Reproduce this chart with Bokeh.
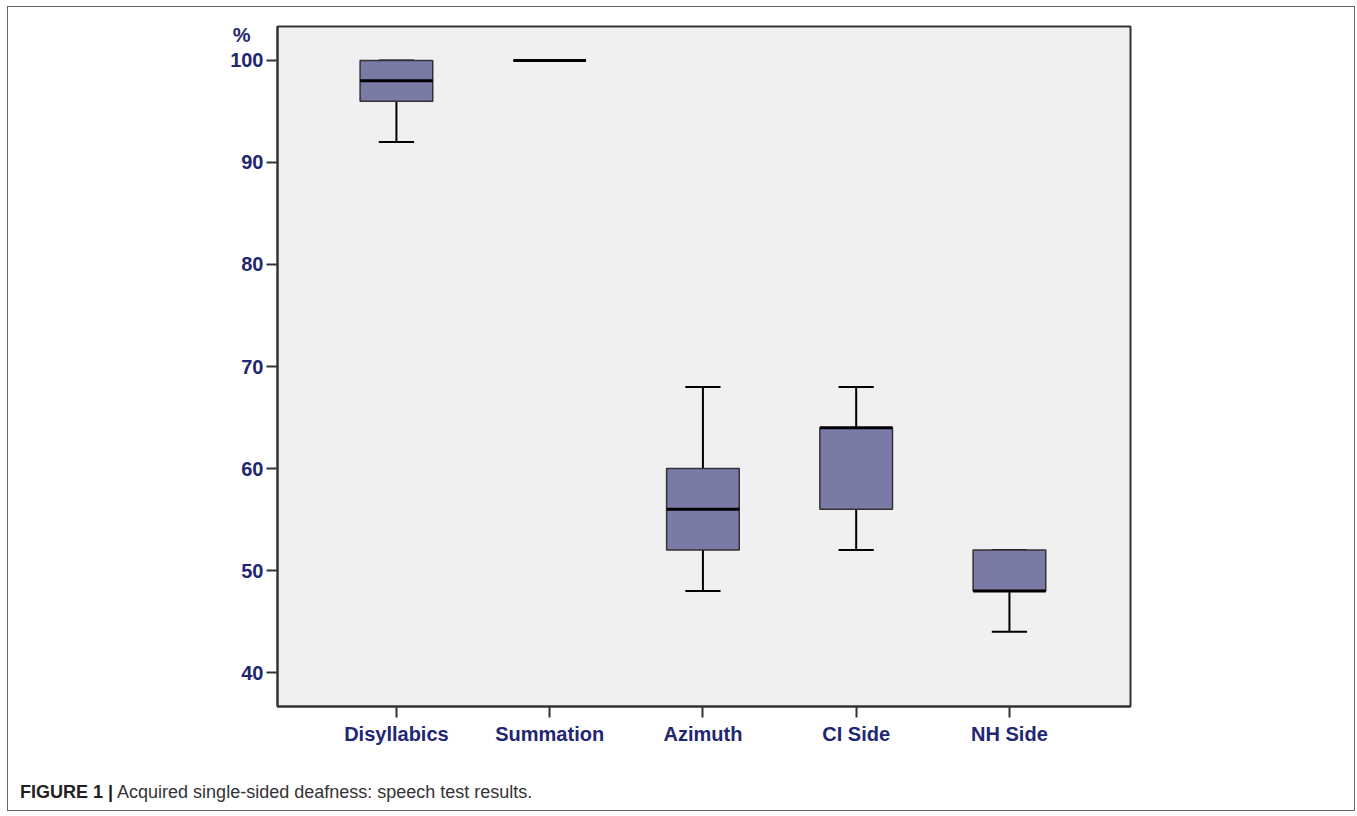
from bokeh.plotting import figure
from bokeh.models import Range1d, FixedTicker, LinearAxis, Div
from bokeh.layouts import column
from bokeh.embed import file_html
from bokeh.resources import INLINE

categories = ["Disyllabics", "Summation", "Azimuth", "CI Side", "NH Side"]
lower_whisker = [92, 100, 48, 52, 44]
q1 = [96, 100, 52, 56, 48]
median = [98, 100, 56, 64, 48]
q3 = [100, 100, 60, 64, 52]
upper_whisker = [100, 100, 68, 68, 52]
y_ticks = [40, 50, 60, 70, 80, 90, 100]
unit_label = "%"

x_pos = list(range(1, len(categories) + 1))
box_w = 0.474
cap_w = 0.23

NAVY = "#1f2772"
p = figure(width=1346, height=753, output_backend="svg", toolbar_location=None,
           x_range=Range1d(0.224, 5.79), y_range=Range1d(36.67, 103.33),
           min_border_left=269, min_border_top=19, min_border_right=224,
           min_border_bottom=54, frame_width=853, frame_height=680)
p.background_fill_color = "#f0f0f0"
p.border_fill_color = "white"
p.outline_line_color = "#333333"
p.outline_line_width = 2
p.xgrid.visible = False
p.ygrid.visible = False

p.xaxis.ticker = FixedTicker(ticks=x_pos)
p.xaxis.major_label_overrides = {x: c for x, c in zip(x_pos, categories)}
p.yaxis.ticker = FixedTicker(ticks=y_ticks)
for ax in (p.xaxis[0], p.yaxis[0]):
    ax.axis_line_color = "#333333"
    ax.axis_line_width = 2
    ax.major_tick_line_color = "#333333"
    ax.major_tick_line_width = 2
    ax.major_tick_out = 11
    ax.major_tick_in = 0
    ax.minor_tick_line_color = None
    ax.major_label_text_font = "Liberation Sans"
    ax.major_label_text_font_style = "bold"
    ax.major_label_text_font_size = "20px"
    ax.major_label_text_color = NAVY
p.yaxis.major_label_standoff = 3
p.xaxis.major_label_standoff = 5

# unit label "%" above the y tick labels, drawn by a bare extra axis
unit_axis = LinearAxis(ticker=FixedTicker(ticks=[102.5]),
                       major_label_overrides={102.5: unit_label},
                       axis_line_color=None, major_tick_line_color=None,
                       minor_tick_line_color=None, major_tick_out=0, major_tick_in=0,
                       major_label_standoff=-23,
                       major_label_text_font="Liberation Sans",
                       major_label_text_font_style="bold",
                       major_label_text_font_size="20px",
                       major_label_text_color=NAVY)
p.add_layout(unit_axis, "left")

x0 = [x - box_w / 2 for x in x_pos]
x1 = [x + box_w / 2 for x in x_pos]
c0 = [x - cap_w / 2 for x in x_pos]
c1 = [x + cap_w / 2 for x in x_pos]

# whiskers
p.segment(x0=x_pos, y0=q3, x1=x_pos, y1=upper_whisker, line_color="black", line_width=2)
p.segment(x0=x_pos, y0=q1, x1=x_pos, y1=lower_whisker, line_color="black", line_width=2)
p.segment(x0=c0, y0=upper_whisker, x1=c1, y1=upper_whisker, line_color="black", line_width=2)
p.segment(x0=c0, y0=lower_whisker, x1=c1, y1=lower_whisker, line_color="black", line_width=2)
# boxes
p.quad(left=x0, right=x1, bottom=q1, top=q3, fill_color="#7a7aa7",
       line_color="#333333", line_width=1.5)
# medians
p.segment(x0=x0, y0=median, x1=x1, y1=median, line_color="black", line_width=3)

caption = Div(text=('<span style="font-family:\'Liberation Sans\';font-size:18px;color:#333;">'
                    '<b style="color:#222;">FIGURE 1 |</b> Acquired single-sided deafness: '
                    'speech test results.</span>'),
              width=1339, height=40,
              styles={"padding-top": "15px", "padding-left": "7px"})

layout = column(p, caption, spacing=0, width=1348, height=805,
                styles={"border": "1px solid #666666", "margin-left": "7px",
                        "margin-top": "6px", "box-sizing": "border-box"})

open("out.html", "w").write(file_html(layout, INLINE))
